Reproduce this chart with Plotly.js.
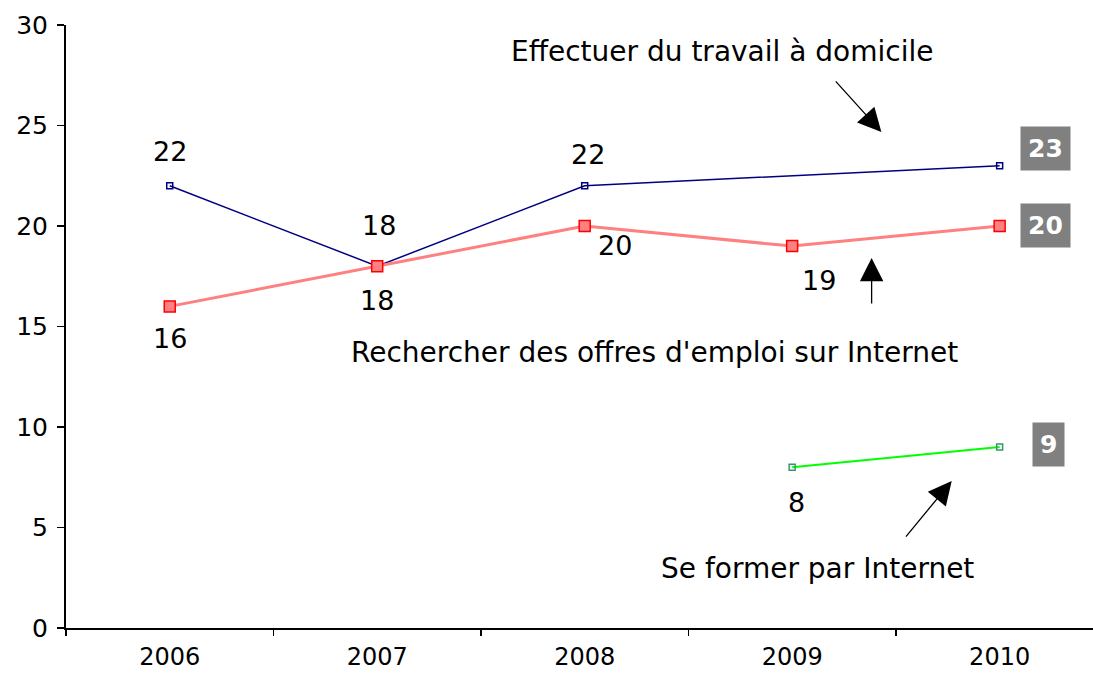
<!DOCTYPE html>
<html>
<head>
<meta charset="utf-8">
<script src="https://cdn.plot.ly/plotly-3.0.1.min.js"></script>
<style>html,body{margin:0;padding:0;background:#fff;}#chart{width:1093px;height:673px;}</style>
</head>
<body>
<div id="chart"></div>
<script>
const years = ['2006', '2007', '2008', '2009', '2010'];
const travailDomicile = [22, 18, 22, null, 23];
const offresEmploi = [16, 18, 20, 19, 20];
const seFormer = [null, null, null, 8, 9];
const seriesNames = ['Effectuer du travail à domicile', "Rechercher des offres d'emploi sur Internet", 'Se former par Internet'];

const FONT = 'DejaVu Sans, Verdana, sans-serif';

const traces = [
  {x: years, y: travailDomicile, mode: 'lines+markers', connectgaps: true, name: seriesNames[0],
   line: {color: '#000080', width: 1.5},
   marker: {symbol: 'square-open', size: 6, color: '#000080', line: {width: 1.5}}},
  {x: years, y: offresEmploi, mode: 'lines+markers', name: seriesNames[1],
   line: {color: '#ff8080', width: 3},
   marker: {symbol: 'square', size: 11, color: '#ff8080', line: {color: '#ff0000', width: 1.5}}},
  {x: years, y: seFormer, mode: 'lines+markers', name: seriesNames[2],
   line: {color: '#00ff00', width: 2},
   marker: {symbol: 'square-open', size: 6, color: '#339966', line: {width: 1.5}}}
];

const ann = [];
function lab(i, series, dx, dy) {
  ann.push({x: i, y: series[i], xref: 'x', yref: 'y', text: String(series[i]),
    showarrow: false, xshift: dx, yshift: dy, font: {family: FONT, size: 27, color: '#000'}});
}
lab(0, travailDomicile, 0, 34);
lab(1, travailDomicile, 2, 41);
lab(2, travailDomicile, 3, 31);
lab(0, offresEmploi, 0, -32);
lab(1, offresEmploi, 0, -34);
lab(2, offresEmploi, 30, -19);
lab(3, offresEmploi, 27, -34);
lab(3, seFormer, 4, -35);

function endBox(series, dx, dy) {
  const i = years.length - 1;
  ann.push({x: i, y: series[i], xref: 'x', yref: 'y', text: '<b>' + series[i] + '</b>',
    showarrow: false, xshift: dx, yshift: dy, bgcolor: '#808080', borderpad: 7,
    font: {family: FONT, size: 25, color: '#fff'}});
}
endBox(travailDomicile, 46, 17);
endBox(offresEmploi, 46, 1);
endBox(seFormer, 49, 3);

// series name labels
const nameFont = {family: FONT, size: 28, color: '#000'};
ann.push({x: 2.66, y: 28.66, xref: 'x', yref: 'y', text: seriesNames[0], showarrow: false, font: nameFont});
ann.push({x: 2.337, y: 13.73, xref: 'x', yref: 'y', text: seriesNames[1], showarrow: false, font: nameFont});
ann.push({x: 3.123, y: 2.985, xref: 'x', yref: 'y', text: seriesNames[2], showarrow: false, font: nameFont});

// arrows
function arrow(x, y, ax, ay) {
  ann.push({x: x, y: y, xref: 'x', yref: 'y', ax: ax, ay: ay, axref: 'pixel', ayref: 'pixel',
    text: '', showarrow: true, arrowhead: 2, arrowsize: 3.6, arrowwidth: 1.3, arrowcolor: '#000'});
}
arrow(3.43, 24.68, -47, -52);
arrow(3.383, 18.41, 0, 47);
arrow(3.769, 7.31, -47, 57);

const layout = {
  width: 1093, height: 673,
  margin: {l: 66, r: 0, t: 25, b: 45, pad: 0},
  paper_bgcolor: '#fff', plot_bgcolor: '#fff',
  showlegend: false,
  font: {family: FONT, color: '#000'},
  xaxis: {type: 'category', range: [-0.5, 4.45], tickson: 'boundaries', ticks: 'outside', ticklen: 6,
    tickwidth: 1.5, tickcolor: '#000', showline: true, linecolor: '#000', linewidth: 2, showgrid: false,
    zeroline: false, tickfont: {family: FONT, size: 24, color: '#000'}, ticklabelstandoff: 6},
  yaxis: {range: [0, 30], dtick: 5, tick0: 0, ticks: 'outside', ticklen: 7, tickwidth: 1.5, tickcolor: '#000',
    showline: true, linecolor: '#000', linewidth: 2, showgrid: false, zeroline: false,
    tickfont: {family: FONT, size: 25, color: '#000'}, ticklabelstandoff: 4},
  annotations: ann
};

Plotly.newPlot('chart', traces, layout, {displayModeBar: false, staticPlot: true});
</script>
</body>
</html>
